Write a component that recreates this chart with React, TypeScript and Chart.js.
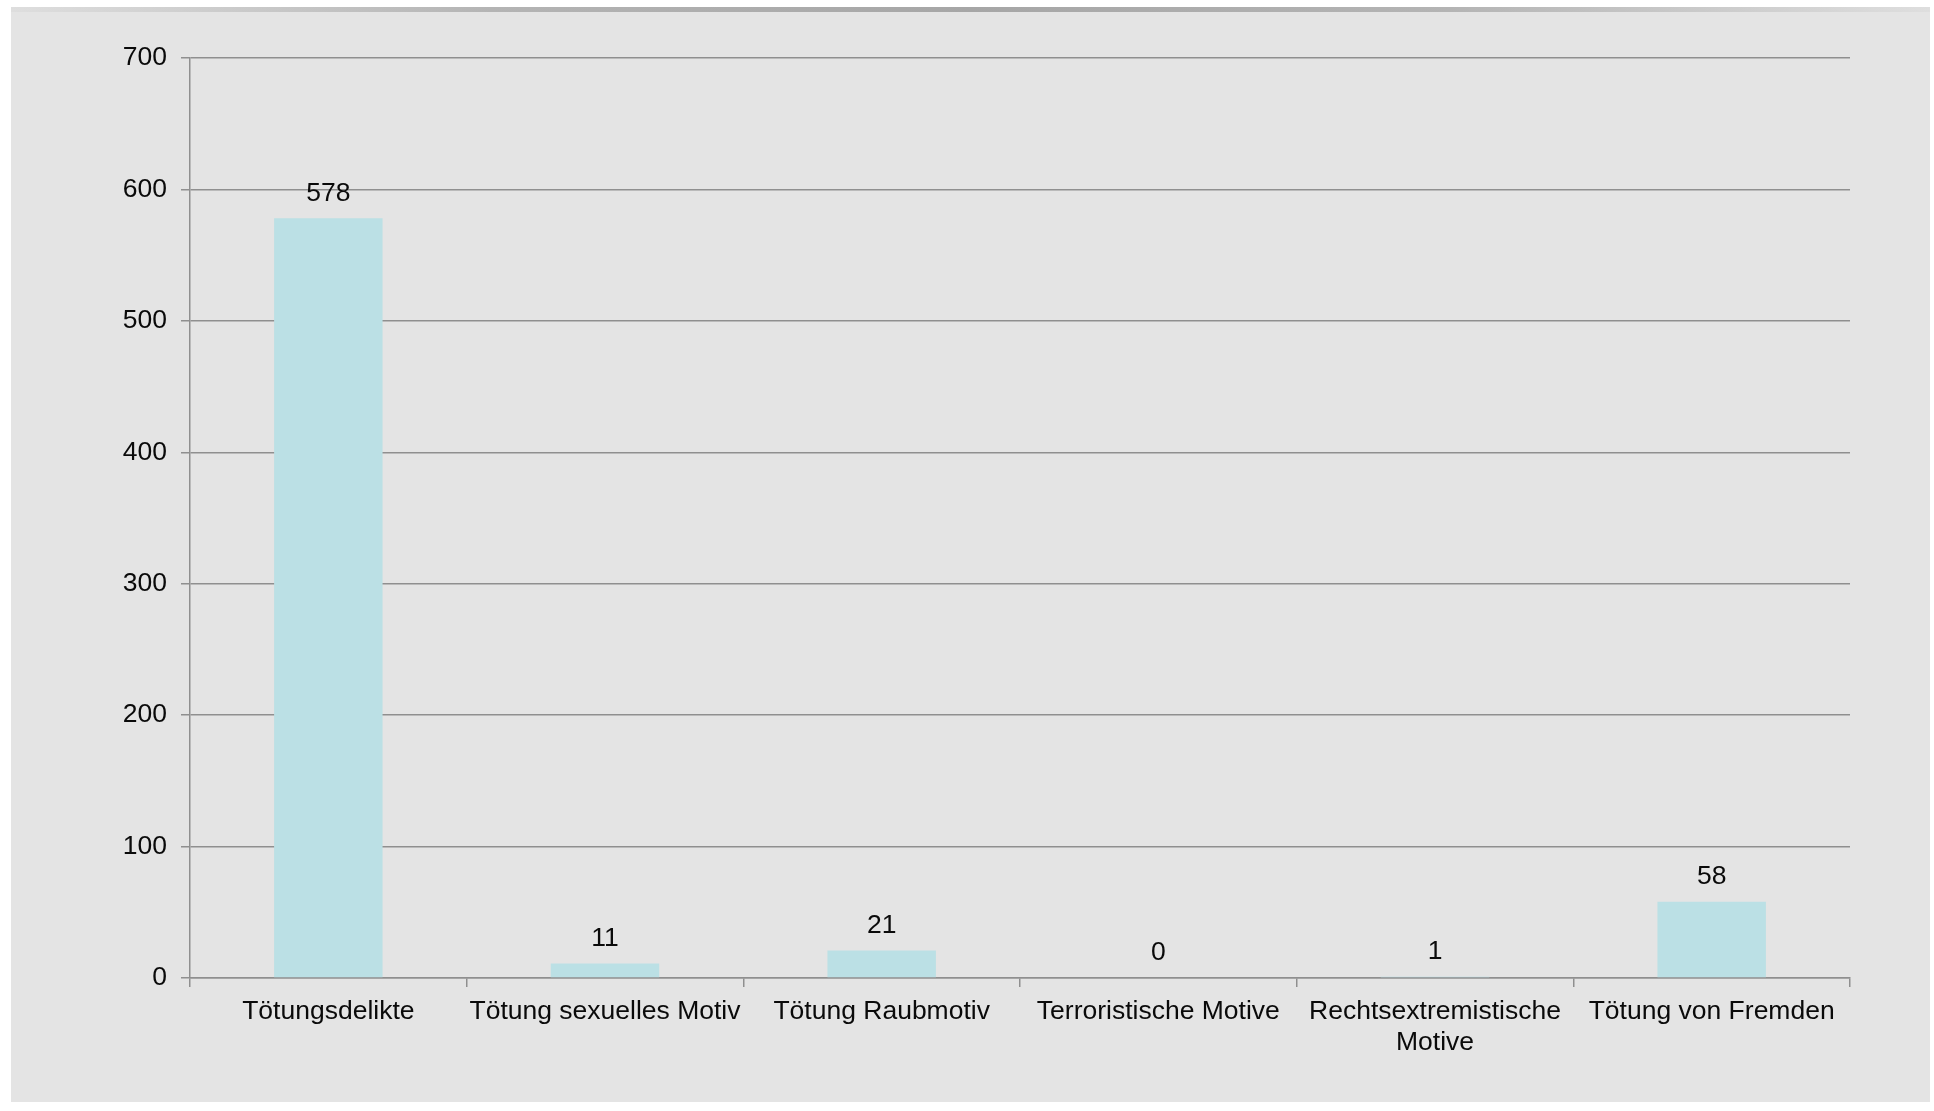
import React, { useEffect, useRef } from "react";
import { Chart, registerables } from "chart.js";

Chart.register(...registerables);

const categories: (string | string[])[] = [
  "Tötungsdelikte",
  "Tötung sexuelles Motiv",
  "Tötung Raubmotiv",
  "Terroristische Motive",
  ["Rechtsextremistische", "Motive"],
  "Tötung von Fremden",
];
const values: number[] = [578, 11, 21, 0, 1, 58];
const yMin = 0;
const yMax = 700;
const yStep = 100;

const FONT = "'Liberation Sans', Arial, sans-serif";
const FSIZE = 26.5;

const valueLabels = {
  id: "valueLabels",
  afterDatasetsDraw(chart: any) {
    const ctx = chart.ctx;
    const meta = chart.getDatasetMeta(0);
    ctx.save();
    ctx.font = `${FSIZE}px ${FONT}`;
    ctx.fillStyle = "#0a0a0a";
    ctx.textAlign = "center";
    ctx.textBaseline = "middle";
    meta.data.forEach((bar: any, i: number) => {
      ctx.fillText(String(values[i]), bar.x, bar.y - 25);
    });
    ctx.restore();
  },
};

export default function App() {
  const ref = useRef<HTMLCanvasElement | null>(null);

  useEffect(() => {
    document.body.style.margin = "0";
    const chart = new Chart(ref.current as HTMLCanvasElement, {
      type: "bar",
      data: {
        labels: categories,
        datasets: [
          {
            data: values,
            backgroundColor: "#bbe0e5",
            borderWidth: 0,
            barPercentage: 0.392,
            categoryPercentage: 1,
          },
        ],
      },
      options: {
        animation: false,
        responsive: false,
        maintainAspectRatio: false,
        layout: { padding: { left: 0, top: 58, right: 84, bottom: 0 } },
        plugins: { legend: { display: false }, tooltip: { enabled: false } },
        scales: {
          x: {
            grid: {
              drawOnChartArea: false,
              drawTicks: true,
              tickLength: 9,
              color: "#8f8f8f",
              lineWidth: 1.5,
              offset: true,
            },
            border: { color: "#8f8f8f", width: 1.5 },
            ticks: {
              color: "#0a0a0a",
              font: { family: FONT, size: FSIZE, lineHeight: 1.17 },
              maxRotation: 0,
              minRotation: 0,
              autoSkip: false,
              padding: 9,
            },
            afterFit: (scale: any) => {
              scale.height = 1111 - 978;
            },
          },
          y: {
            min: yMin,
            max: yMax,
            grid: {
              color: "#8f8f8f",
              lineWidth: 1.5,
              drawTicks: true,
              tickLength: 9,
            },
            border: { color: "#8f8f8f", width: 1.5 },
            ticks: {
              stepSize: yStep,
              color: "#0a0a0a",
              font: { family: FONT, size: FSIZE },
              padding: 14,
            },
            afterFit: (scale: any) => {
              scale.width = 190;
            },
          },
        },
      },
      plugins: [valueLabels],
    });
    return () => chart.destroy();
  }, []);

  return (
    <div style={{ position: "relative", width: 1934, height: 1111, background: "#fff", overflow: "hidden" }}>
      <div
        style={{
          position: "absolute",
          left: 11,
          top: 7,
          width: 1919,
          height: 1095,
          background: "#e4e4e4",
        }}
      />
      <div
        style={{
          position: "absolute",
          left: 11,
          top: 7,
          width: 1919,
          height: 5,
          background: "linear-gradient(to right, #dedede 0%, #b4b4b4 25%, #a6a6a6 50%, #b4b4b4 75%, #dedede 100%)",
        }}
      />
      <canvas
        ref={ref}
        width={1934}
        height={1111}
        style={{ position: "absolute", left: 0, top: 0, width: 1934, height: 1111 }}
      />
    </div>
  );
}
